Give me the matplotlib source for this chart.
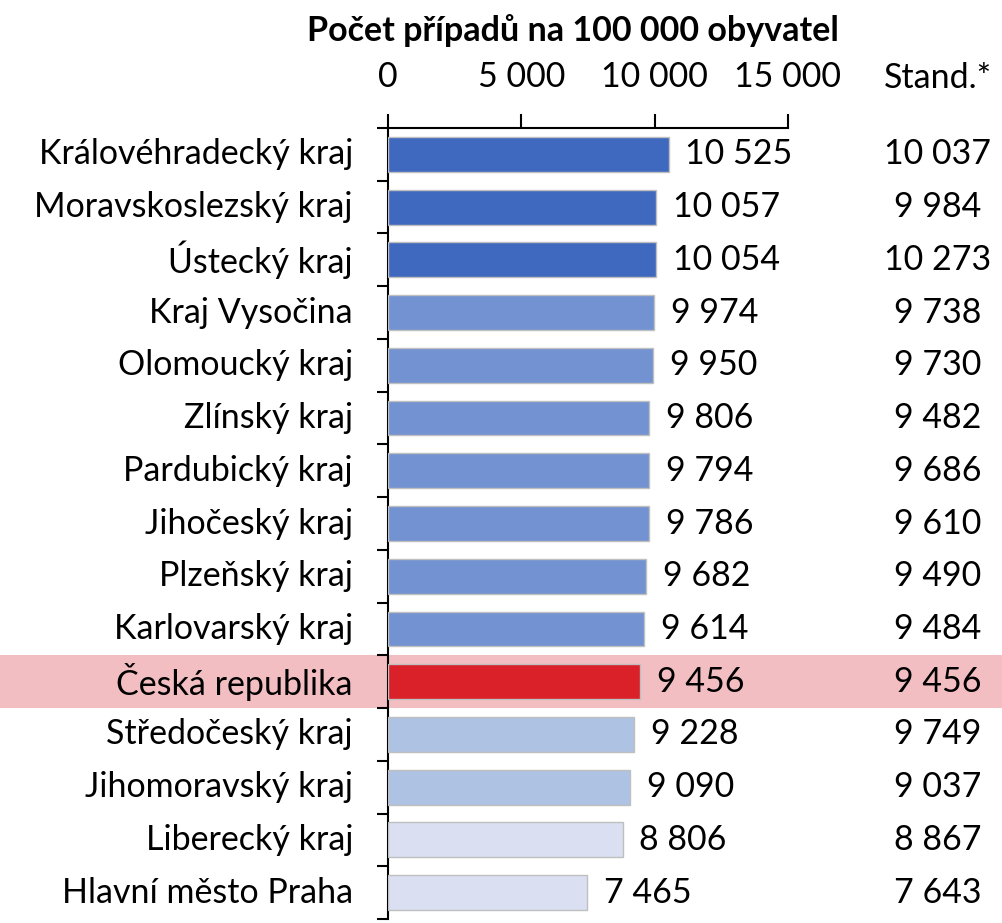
import matplotlib
matplotlib.use("Agg")
import matplotlib.pyplot as plt
from matplotlib.transforms import blended_transform_factory, offset_copy
from matplotlib.patches import Rectangle

plt.rcParams['font.family'] = ['Lato', 'DejaVu Sans']

# data
regions = ["Královéhradecký kraj", "Moravskoslezský kraj", "Ústecký kraj",
           "Kraj Vysočina", "Olomoucký kraj", "Zlínský kraj", "Pardubický kraj",
           "Jihočeský kraj", "Plzeňský kraj", "Karlovarský kraj",
           "Česká republika", "Středočeský kraj", "Jihomoravský kraj",
           "Liberecký kraj", "Hlavní město Praha"]
cases = [10525, 10057, 10054, 9974, 9950, 9806, 9794, 9786, 9682, 9614,
         9456, 9228, 9090, 8806, 7465]
standardized = [10037, 9984, 10273, 9738, 9730, 9482, 9686, 9610, 9490, 9484,
                9456, 9749, 9037, 8867, 7643]
x_ticks = [0, 5000, 10000, 15000]

FS = 24.5

def fmt(v):
    return f"{v:,}".replace(",", " ")

def bar_colour(name, v):
    if name == "Česká republika":
        return "#DA2028"
    if v >= 10000:
        return "#3F69BE"
    if v > 9456:
        return "#7292D2"
    if v > 9000:
        return "#AEC2E4"
    return "#DAE0F1"

W, H = 1002, 923
fig = plt.figure(figsize=(W / 100, H / 100), dpi=100)
ax = fig.add_axes([388 / W, (H - 919) / H, 400 / W, 791 / H])
ax.set_facecolor("none")

n = len(regions)
ypos = list(range(n))
colors = [bar_colour(r, v) for r, v in zip(regions, cases)]
ax.barh(ypos, cases, height=0.66, color=colors, edgecolor="#BFBFBF", linewidth=1, zorder=3)
ax.set_xlim(0, 15000)
ax.set_ylim(n - 0.5, -0.5)

# highlight band for the national value
idx = regions.index("Česká republika")
trans_band = blended_transform_factory(fig.transFigure, ax.transData)
fig.patches.append(Rectangle((0, idx - 0.5), 1, 1, transform=trans_band,
                             facecolor="#F3BEC1", edgecolor="none", zorder=-5))

# axes look
for s in ["right", "bottom"]:
    ax.spines[s].set_visible(False)
ax.spines["left"].set_linewidth(1.5)
ax.spines["top"].set_linewidth(1.5)
ax.xaxis.tick_top()
ax.set_xticks(x_ticks)
ax.set_xticklabels([fmt(t) for t in x_ticks], fontsize=FS)
ax.tick_params(axis="x", direction="out", length=10, width=1.5, pad=15)
ax.set_yticks([i - 0.5 for i in range(n + 1)])
ax.set_yticklabels([])
ax.tick_params(axis="y", direction="out", length=8, width=1.5)

# category labels
for i, r in enumerate(regions):
    ax.text(-0.0875, i, r, transform=blended_transform_factory(ax.transAxes, ax.transData),
            ha="right", va="center", fontsize=FS)

# value labels next to bars
lbl_trans = offset_copy(ax.transData, fig=fig, x=12, y=0, units="points")
for i, v in enumerate(cases):
    ax.text(v, i, fmt(v), transform=lbl_trans, ha="left", va="center", fontsize=FS)

# standardized column
col_trans = blended_transform_factory(fig.transFigure, ax.transData)
for i, v in enumerate(standardized):
    ax.text(938 / W, i, fmt(v), transform=col_trans, ha="center", va="center", fontsize=FS)
fig.text(938 / W, 1 - 78 / H, "Stand.*", ha="center", va="center", fontsize=FS)

fig.text(573 / W, 1 - 31 / H, "Počet případů na 100 000 obyvatel", ha="center", va="center",
         fontsize=FS, fontweight="bold")

fig.savefig("out.png", dpi=100)
